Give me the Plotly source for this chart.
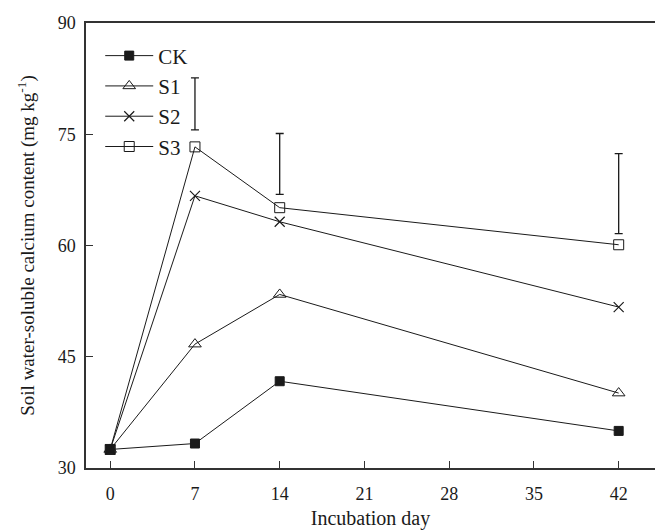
import plotly.graph_objects as go

# Incubation days and water-soluble Ca (mg/kg) per treatment
days = [0, 7, 14, 42]
ck = [32.5, 33.3, 41.7, 35.0]
s1 = [32.5, 46.7, 53.4, 40.1]
s2 = [32.5, 66.7, 63.2, 51.7]
s3 = [32.5, 73.3, 65.1, 60.1]

# LSD bars (centre and half-length) drawn above the curves
lsd_days = [7, 14, 42]
lsd_center = [79.1, 71.0, 67.0]
lsd_half = [3.5, 4.1, 5.4]

FONT = "Liberation Serif"
INK = "#1a1a1a"

fig = go.Figure()

series = [
    ("CK", ck, dict(symbol="square", color=INK, size=9, line=dict(color=INK, width=1))),
    ("S1", s1, dict(symbol="triangle-up-open", color=INK, size=11, line=dict(color=INK, width=1))),
    ("S2", s2, dict(symbol="x-thin-open", color=INK, size=10, line=dict(color=INK, width=1.2))),
    ("S3", s3, dict(symbol="square-open", color=INK, size=10, line=dict(color=INK, width=1))),
]
for name, vals, mk in series:
    fig.add_trace(go.Scatter(
        x=days, y=vals, name=name, mode="lines+markers",
        line=dict(color=INK, width=1), marker=mk, cliponaxis=False,
    ))

fig.add_trace(go.Scatter(
    x=lsd_days, y=lsd_center, mode="markers", showlegend=False,
    marker=dict(size=1, color="rgba(0,0,0,0)"),
    error_y=dict(type="data", array=lsd_half, symmetric=True,
                 color=INK, thickness=1.3, width=4),
))

fig.update_layout(
    width=655, height=530,
    margin=dict(l=86, r=0, t=23, b=62),
    paper_bgcolor="white", plot_bgcolor="white",
    font=dict(family=FONT, size=18, color=INK),
    showlegend=True,
    legend=dict(
        x=0.025, y=0.972, xanchor="left", yanchor="top",
        bgcolor="rgba(0,0,0,0)", font=dict(family=FONT, size=21, color=INK),
        itemwidth=48, tracegroupgap=0,
    ),
    xaxis=dict(
        range=[-2, 45], tickvals=[0, 7, 14, 21, 28, 35, 42],
        ticks="inside", ticklen=7, tickwidth=1.3, tickcolor="#333",
        showline=True, linecolor="#333", linewidth=1.5, mirror=True,
        showgrid=False, zeroline=False, ticklabelstandoff=9,
        tickfont=dict(family=FONT, size=18, color=INK),
        title=dict(text="Incubation day", font=dict(family=FONT, size=20, color=INK), standoff=10),
    ),
    yaxis=dict(
        range=[30, 90], tickvals=[30, 45, 60, 75, 90],
        ticks="inside", ticklen=7, tickwidth=1.3, tickcolor="#333",
        showline=True, linecolor="#333", linewidth=1.5,
        showgrid=False, zeroline=False, ticklabelstandoff=5,
        tickfont=dict(family=FONT, size=18, color=INK),
        title=dict(text="Soil water-soluble calcium content (mg kg<sup>-1</sup>)",
                   font=dict(family=FONT, size=19, color=INK), standoff=18),
    ),
)

fig.write_html("out.html")
